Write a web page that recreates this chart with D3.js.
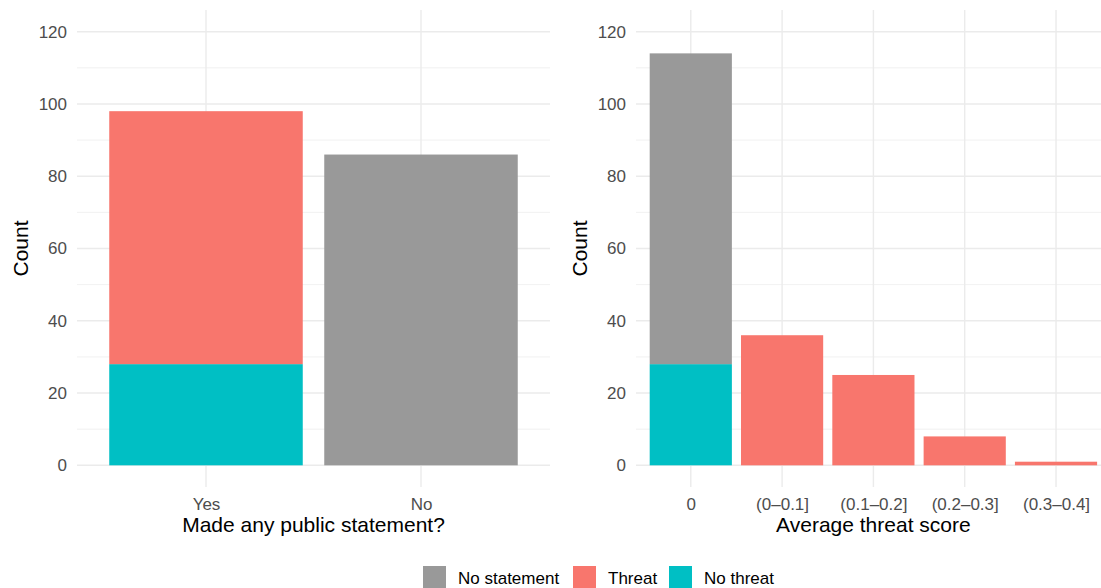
<!DOCTYPE html>
<html><head><meta charset="utf-8">
<script src="https://cdn.jsdelivr.net/npm/d3@7"></script>
<style>body{margin:0;background:#fff}svg{display:block}text{font-family:"Liberation Sans",Arial,sans-serif}</style>
</head><body>
<svg id="c" width="1101" height="588"></svg>
<script>
// Data
const statementCats = ["Yes", "No"];
const statementNoThreat = [28, 0];
const statementThreat = [70, 0];
const statementNoStatement = [0, 86];

const scoreCats = ["0", "(0\u20130.1]", "(0.1\u20130.2]", "(0.2\u20130.3]", "(0.3\u20130.4]"];
const scoreNoThreat = [28, 0, 0, 0, 0];
const scoreThreat = [0, 36, 25, 8, 1];
const scoreNoStatement = [86, 0, 0, 0, 0];

const yTicks = [0, 20, 40, 60, 80, 100, 120];
const yMinor = [10, 30, 50, 70, 90, 110];
const groups = ["No statement", "Threat", "No threat"];
const colors = {"No statement": "#999999", "Threat": "#F8766D", "No threat": "#00BFC4"};

const svg = d3.select("#c");
const panelTop = 10, panelBottom = 487;
const y = d3.scaleLinear().domain([-6, 126]).range([panelBottom, panelTop]);

function panel(cats, noThreat, threat, noStmt, x0, x1, xTitle, countX) {
  const x = d3.scalePoint().domain(cats).range([x0, x1]).padding(0.6);
  const bw = x.step() * 0.9;
  const g = svg.append("g");
  g.selectAll(".minor").data(yMinor).join("line")
    .attr("x1", x0).attr("x2", x1).attr("y1", d => y(d)).attr("y2", d => y(d))
    .attr("stroke", "#EBEBEB").attr("stroke-width", 0.7);
  g.selectAll(".major").data(yTicks).join("line")
    .attr("x1", x0).attr("x2", x1).attr("y1", d => y(d)).attr("y2", d => y(d))
    .attr("stroke", "#EBEBEB").attr("stroke-width", 1.4);
  g.selectAll(".vmajor").data(cats).join("line")
    .attr("x1", d => x(d)).attr("x2", d => x(d)).attr("y1", panelTop).attr("y2", panelBottom)
    .attr("stroke", "#EBEBEB").attr("stroke-width", 1.4);
  const rows = cats.map((c, i) => ({cat: c, "No threat": noThreat[i], "Threat": threat[i], "No statement": noStmt[i]}));
  const stack = d3.stack().keys(["No threat", "Threat", "No statement"])(rows);
  stack.forEach(layer => {
    g.selectAll(null).data(layer.filter(d => d[1] - d[0] > 0)).join("rect")
      .attr("x", d => x(d.data.cat) - bw / 2).attr("width", bw)
      .attr("y", d => y(d[1])).attr("height", d => y(d[0]) - y(d[1]))
      .attr("fill", colors[layer.key]);
  });
  const ya = g.append("g").attr("transform", `translate(${x0},0)`)
    .call(d3.axisLeft(y).tickValues(yTicks).tickSize(0).tickPadding(10));
  ya.select(".domain").remove();
  ya.selectAll("text").attr("fill", "#4D4D4D").style("font-size", "17px").style("font-family", "Liberation Sans, Arial, sans-serif");
  const xa = g.append("g").attr("transform", `translate(0,${panelBottom})`)
    .call(d3.axisBottom(x).tickSize(0).tickPadding(10.5));
  xa.select(".domain").remove();
  xa.selectAll("text").attr("fill", "#4D4D4D").style("font-size", "17px").style("font-family", "Liberation Sans, Arial, sans-serif");
  g.append("text").attr("x", (x0 + x1) / 2).attr("y", 532)
    .attr("text-anchor", "middle").style("font-size", "21px").attr("fill", "#000").text(xTitle);
  g.append("text").attr("transform", `translate(${countX},${(panelTop + panelBottom) / 2}) rotate(-90)`)
    .attr("text-anchor", "middle").style("font-size", "21px").attr("fill", "#000").text("Count");
}

panel(statementCats, statementNoThreat, statementThreat, statementNoStatement, 77, 550, "Made any public statement?", 28);
panel(scoreCats, scoreNoThreat, scoreThreat, scoreNoStatement, 636, 1110.8, "Average threat score", 587);

const legendX = [423, 573, 669];
const lg = svg.append("g");
groups.forEach((k, i) => {
  lg.append("rect").attr("x", legendX[i]).attr("y", 566).attr("width", 23).attr("height", 23).attr("fill", colors[k]);
  lg.append("text").attr("x", legendX[i] + 35).attr("y", 584).style("font-size", "17px").attr("fill", "#000").text(k);
});
</script>
</body></html>
